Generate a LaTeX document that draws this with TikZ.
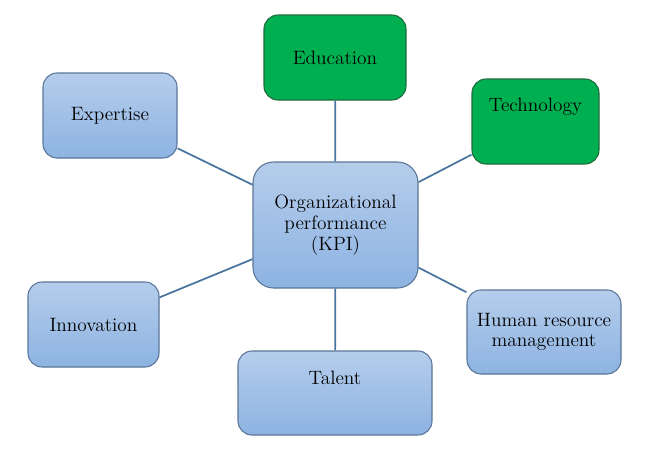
\documentclass[tikz,border=0pt]{standalone}
\definecolor{bluetop}{HTML}{B5CDEB}
\definecolor{bluebot}{HTML}{8DB3E2}
\definecolor{blueborder}{HTML}{5B7698}
\definecolor{greenfill}{HTML}{00B050}
\definecolor{greenborder}{HTML}{1E6B3C}
\definecolor{linkcol}{HTML}{4A74A0}
\tikzset{
  bluebox/.style={draw=blueborder, line width=0.8pt, rounded corners=10.5pt,
    top color=bluetop, bottom color=bluebot, inner sep=0pt, align=center,
    font=\fontsize{14.5}{15.5}\selectfont},
  greenbox/.style={draw=greenborder, line width=0.8pt, rounded corners=10.5pt,
    fill=greenfill, inner sep=0pt, align=center,
    font=\fontsize{14.5}{15.5}\selectfont},
  lbl/.style={inner sep=0pt, align=center, font=\fontsize{14.5}{15.5}\selectfont},
  link/.style={draw=linkcol, line width=1.3pt}
}
\begin{document}
\begin{tikzpicture}[x=0.75pt,y=-0.75pt]
\useasboundingbox (0,0) rectangle (658,451);
\node[greenbox, minimum width=106.5pt, minimum height=63.75pt] (edu) at (335,57.5) {Education};
\node[greenbox, minimum width=95.25pt, minimum height=63.75pt] (tech) at (535.5,121.5) {};
\node[lbl] (techlbl) at (535.5,107) {Technology};
\node[bluebox, minimum width=100.5pt, minimum height=63.75pt] (exp) at (110,115.5) {Expertise};
\node[bluebox, rounded corners=15.5pt, minimum width=123.75pt, minimum height=94.5pt] (kpi) at (335.5,225) {Organizational\\performance\\(KPI)};
\node[bluebox, minimum width=98.25pt, minimum height=63.75pt] (inn) at (93.5,324.5) {Innovation};
\node[bluebox, minimum width=145.5pt, minimum height=63pt] (tal) at (335,393) {};
\node[lbl] (tallbl) at (335,378) {Talent};
\node[bluebox, minimum width=115.5pt, minimum height=63pt] (hrm) at (544,332) {Human resource\\management};
\draw[link] (edu) -- (kpi);
\draw[link] (tech) -- (kpi);
\draw[link] (exp) -- (kpi);
\draw[link] (inn) -- (kpi);
\draw[link] (tal) -- (kpi);
\draw[link] (hrm) -- (kpi);
\end{tikzpicture}
\end{document}
